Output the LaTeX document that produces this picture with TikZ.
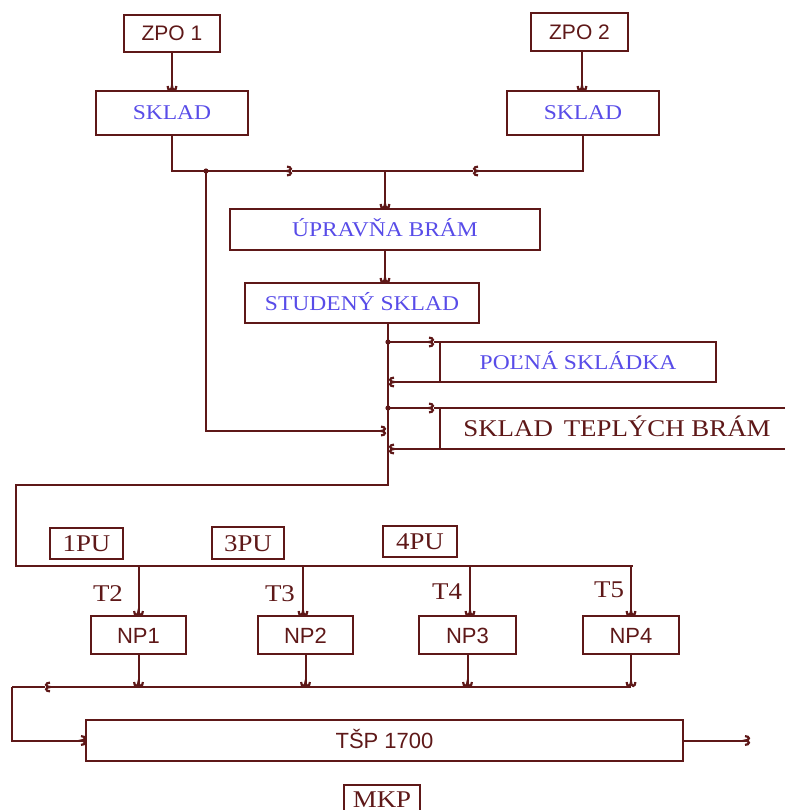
\documentclass[tikz,border=0pt]{standalone}
\usepackage{fontspec}
\setmainfont{Liberation Serif}
\newfontfamily\sansf{Liberation Sans}
\newfontfamily\serw[FakeStretch=1.12]{Liberation Serif}
\usetikzlibrary{arrows.meta}
\definecolor{ln}{RGB}{94,24,24}
\definecolor{bl}{RGB}{88,76,232}
\tikzset{
  hk/.tip={Hooks[length=5pt,width=11pt,line width=2.2pt]},
  wire/.style={draw=ln,line width=2pt},
  arr/.style={wire,-hk},
  boxbase/.style={draw=ln,line width=2pt,inner sep=0pt,outer sep=0pt,anchor=center},
  sbox/.style={boxbase,font=\sansf\fontsize{21}{21}\selectfont,text=ln,text height=15pt,text depth=0pt},
  nbox/.style={boxbase,font=\sansf\fontsize{22}{22}\selectfont,text=ln,text height=16pt,text depth=0pt},
  bbox/.style={boxbase,font=\serw\fontsize{21}{21}\selectfont,text=bl,text height=14pt,text depth=0pt},
  rbox/.style={boxbase,font=\serw\fontsize{24}{24}\selectfont,text=ln,text height=16pt,text depth=0pt},
  tlab/.style={inner sep=0pt,font=\serw\fontsize{24}{24}\selectfont,text=ln,text height=16pt,text depth=0pt},
  dot/.style={fill=ln}
}
\begin{document}
\begin{tikzpicture}[x=1pt,y=-1pt]
\useasboundingbox (0,0) rectangle (784,810);
% boxes
\node[sbox,minimum width=96pt,minimum height=37pt] (zpo1) at (172,33.5) {ZPO 1};
\node[sbox,minimum width=97pt,minimum height=38pt] (zpo2) at (579.5,32) {ZPO 2};
\node[bbox,minimum width=152pt,minimum height=44pt] (sklad1) at (172,113) {SKLAD};
\node[bbox,minimum width=152pt,minimum height=44pt] (sklad2) at (583,113) {SKLAD};
\node[bbox,minimum width=310pt,minimum height=41pt] (upravna) at (385,229.5) {ÚPRAVŇA BRÁM};
\node[bbox,minimum width=234pt,minimum height=40pt] (studeny) at (362,303) {STUDENÝ SKLAD};
\node[bbox,minimum width=276pt,minimum height=40pt] (polna) at (578,362) {POĽNÁ SKLÁDKA};
\node[rbox,minimum width=354pt,minimum height=41pt] (teple) at (617,428.5) {SKLAD\hspace{0.45em}TEPLÝCH BRÁM};
\node[rbox,minimum width=73pt,minimum height=31pt] (pu1) at (86.5,543.5) {1PU};
\node[rbox,minimum width=72pt,minimum height=32pt] (pu3) at (248,543) {3PU};
\node[rbox,minimum width=74pt,minimum height=31pt] (pu4) at (420,541.5) {4PU};
\node[nbox,minimum width=95pt,minimum height=38pt] (np1) at (138.5,635) {NP1};
\node[nbox,minimum width=95pt,minimum height=38pt] (np2) at (305.5,635) {NP2};
\node[nbox,minimum width=97pt,minimum height=38pt] (np3) at (467.5,635) {NP3};
\node[nbox,minimum width=96pt,minimum height=38pt] (np4) at (631,635) {NP4};
\node[nbox,minimum width=597pt,minimum height=41pt] (tsp) at (384.5,740.5) {TŠP 1700};
\node[rbox,minimum width=76pt,minimum height=44pt] (mkp) at (382,807) {};
\node[tlab] (mkpt) at (382,799) {MKP};
% labels
\node[tlab] (t2) at (108,593) {T2};
\node[tlab] (t3) at (280,593) {T3};
\node[tlab] (t4) at (447,591) {T4};
\node[tlab] (t5) at (609,589) {T5};
% coordinates
\coordinate (j1) at (385,171);
\coordinate (a1) at (292,171);
\coordinate (a2) at (473,171);
\coordinate (d1) at (206,171);
\coordinate (m0) at (388,323);
\coordinate (p1) at (388,342);
\coordinate (p1a) at (434,342);
\coordinate (r1) at (389,382);
\coordinate (p3) at (388,408);
\coordinate (p3a) at (434,408);
\coordinate (r2) at (389,449);
\coordinate (d2a) at (386,431);
\coordinate (m1) at (388,485);
\coordinate (c2) at (16,566);
\coordinate (bus) at (633,566);
\coordinate (b2) at (631,687);
\coordinate (b2a) at (45,687);
\coordinate (c3) at (12,687);
\coordinate (c4) at (12,740.5);
\coordinate (out) at (750,740.5);
\coordinate (z2) at (582,51);
% top connections
\draw[arr] (zpo1) -- (sklad1);
\draw[arr] (z2) -- (z2 |- sklad2.north);
\draw[arr] (sklad1.south) |- (a1);
\draw[wire] (a1) -- (j1);
\draw[arr] (sklad2.south) |- (a2);
\draw[wire] (a2) -- (j1);
\draw[arr] (j1) -- (upravna.north);
\draw[arr] (upravna.south) -- (upravna.south |- studeny.north);
% main line and stores
\draw[wire] (m0) -- (m1) -| (c2) -- (bus);
\draw[arr] (p1) -- (p1a);
\draw[wire] (p1a) -- (polna.north west);
\draw[arr] (polna.south west) -- (r1);
\draw[arr] (p3) -- (p3a);
\draw[wire] (p3a) -- (teple.north west);
\draw[arr] (teple.south west) -- (r2);
\draw[arr] (d1) |- (d2a);
\fill[dot] (d1) circle (2.6pt);
\fill[dot] (p1) circle (2.6pt);
\fill[dot] (p3) circle (2.6pt);
% drops to NP
\draw[arr] (np1.north |- bus) -- (np1.north);
\draw[arr] (303,566) -- (303,616);
\draw[arr] (470,566) -- (470,616);
\draw[arr] (np4.north |- bus) -- (np4.north);
% NP outputs
\draw[arr] (np1.south) -- (np1.south |- b2);
\draw[arr] (np2.south) -- (np2.south |- b2);
\draw[arr] (np3.south) -- (np3.south |- b2);
\draw[arr] (np4.south) -- (np4.south |- b2);
\draw[arr] (b2) -- (b2a);
\draw[wire] (b2a) -- (c3);
\draw[arr] (c3) -- (c4) -- (tsp.west);
\draw[arr] (tsp.east) -- (out);
\end{tikzpicture}
\end{document}
